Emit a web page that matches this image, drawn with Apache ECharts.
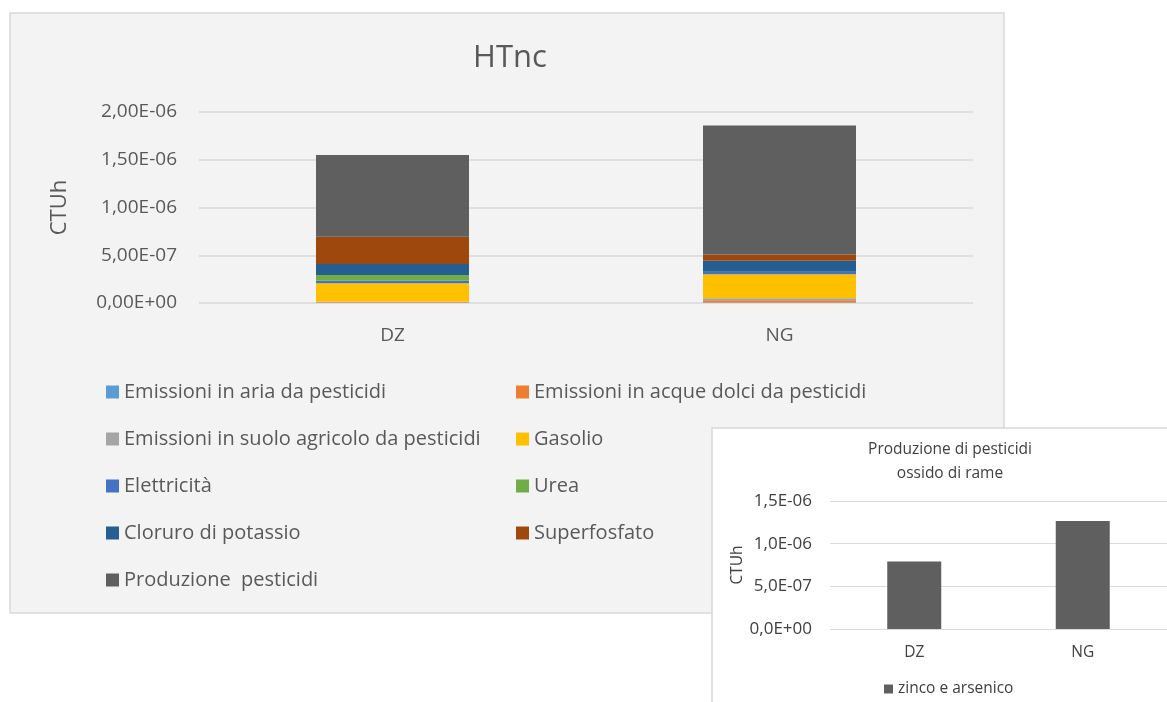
<!DOCTYPE html>
<html>
<head>
<meta charset="utf-8">
<script src="https://cdn.jsdelivr.net/npm/echarts@6/dist/echarts.min.js"></script>
<style>
  html, body { margin: 0; padding: 0; background: #ffffff; }
  #chart { width: 1167px; height: 702px; }
</style>
</head>
<body>
<div id="chart"></div>
<script>
// HTnc – human toxicity, non-cancer (CTUh) per system
const categories = ['DZ', 'NG'];

const seriesNames = [
  'Emissioni in aria da pesticidi',
  'Emissioni in acque dolci da pesticidi',
  'Emissioni in suolo agricolo da pesticidi',
  'Gasolio',
  'Elettricità',
  'Urea',
  'Cloruro di potassio',
  'Superfosfato',
  'Produzione  pesticidi'
];

// one value per category: [DZ, NG]
const emissioniAria   = [0.03e-7, 0.05e-7];
const emissioniAcque  = [0.06e-7, 0.25e-7];
const emissioniSuolo  = [0.05e-7, 0.20e-7];
const gasolio         = [1.93e-7, 2.51e-7];
const elettricita     = [0.27e-7, 0.25e-7];
const urea            = [0.60e-7, 0.02e-7];
const cloruroPotassio = [1.15e-7, 1.15e-7];
const superfosfato    = [2.86e-7, 0.66e-7];
const produzione      = [8.55e-7, 13.5e-7];

const yTicks = [0, 5e-7, 1e-6, 1.5e-6, 2e-6];

// copper oxide pesticide production: zinc and arsenic contribution
const insetCategories = ['DZ', 'NG'];
const zincoArsenico = [7.9e-7, 12.65e-7];
const insetTicks = [0, 5e-7, 1e-6, 1.5e-6];

const seriesValues = [
  emissioniAria, emissioniAcque, emissioniSuolo, gasolio, elettricita,
  urea, cloruroPotassio, superfosfato, produzione
];
const colors = [
  '#5B9BD5', '#ED7D31', '#A5A5A5', '#FFC000', '#4472C4',
  '#70AD47', '#255E91', '#9E480E', '#5f5f5f'
];

const FONT = '"Open Sans", Lato, sans-serif';
const TXT = '#595959';
const TXT2 = '#404040';

// Italian-style scientific notation: 2,00E-06
function sci(v, digits) {
  const s = Number(v).toExponential(digits);
  const [m, e] = s.split('e');
  const sign = e[0] === '-' ? '-' : '+';
  const exp = e.replace(/[+-]/, '').padStart(2, '0');
  return m.replace('.', ',') + 'E' + sign + exp;
}

const mainSeries = seriesNames.map((name, i) => ({
  name,
  type: 'bar',
  stack: 'tot',
  xAxisIndex: 0,
  yAxisIndex: 0,
  barWidth: 153,
  itemStyle: { color: colors[i] },
  data: seriesValues[i]
}));

const insetSeries = {
  name: 'zinco e arsenico',
  type: 'bar',
  xAxisIndex: 1,
  yAxisIndex: 1,
  barWidth: 54,
  itemStyle: { color: '#5f5f5f' },
  data: zincoArsenico
};

const legendCommon = {
  orient: 'vertical',
  icon: 'rect',
  padding: 0,
  itemWidth: 13,
  itemHeight: 13,
  itemGap: 27,
  textStyle: { color: TXT, fontSize: 20, fontFamily: FONT },
  selectedMode: false
};

const option = {
  animation: false,
  backgroundColor: '#ffffff',
  graphic: [
    {
      type: 'rect', z: -20,
      shape: { x: 10, y: 13, width: 994, height: 600 },
      style: { fill: '#f3f3f3', stroke: '#d9d9d9', lineWidth: 1.5 }
    },
    {
      type: 'rect', z: -10,
      shape: { x: 712, y: 428, width: 470, height: 290 },
      style: { fill: '#ffffff', stroke: '#d9d9d9', lineWidth: 1.5 }
    }
  ],
  title: [
    {
      text: 'HTnc',
      left: 505, top: 38, textAlign: 'center',
      textStyle: { color: TXT, fontSize: 31, fontWeight: 'normal', fontFamily: FONT }
    },
    {
      text: 'Produzione di pesticidi\nossido di rame',
      left: 945, top: 433, textAlign: 'center',
      textStyle: { color: TXT2, fontSize: 15.5, fontWeight: 'normal', lineHeight: 24, fontFamily: FONT }
    }
  ],
  legend: [
    Object.assign({}, legendCommon, {
      left: 106, top: 382,
      data: [seriesNames[0], seriesNames[2], seriesNames[4], seriesNames[6], seriesNames[8]]
    }),
    Object.assign({}, legendCommon, {
      left: 516, top: 382,
      data: [seriesNames[1], seriesNames[3], seriesNames[5], seriesNames[7]]
    }),
    {
      left: 884, top: 681, padding: 0,
      icon: 'rect', itemWidth: 9, itemHeight: 9,
      selectedMode: false,
      textStyle: { color: TXT2, fontSize: 15.5, fontFamily: FONT },
      data: ['zinco e arsenico']
    }
  ],
  grid: [
    { left: 199, right: 194, top: 112, bottom: 399 },
    { left: 830, right: 0, top: 501, bottom: 73 }
  ],
  xAxis: [
    {
      type: 'category', gridIndex: 0, data: categories,
      axisLine: { show: false }, axisTick: { show: false },
      axisLabel: { color: TXT, fontSize: 19, margin: 23, fontFamily: FONT }
    },
    {
      type: 'category', gridIndex: 1, data: insetCategories,
      axisLine: { show: false }, axisTick: { show: false },
      axisLabel: { color: TXT2, fontSize: 15.5, margin: 16, fontFamily: FONT }
    }
  ],
  yAxis: [
    {
      type: 'value', gridIndex: 0,
      min: yTicks[0], max: yTicks[yTicks.length - 1], interval: yTicks[1] - yTicks[0],
      name: 'CTUh', nameLocation: 'middle', nameGap: 128, nameRotate: 90,
      nameTextStyle: { color: TXT, fontSize: 22, fontFamily: FONT },
      axisLine: { show: false }, axisTick: { show: false },
      splitLine: { lineStyle: { color: '#d9d9d9', width: 1.5 } },
      axisLabel: { color: TXT, fontSize: 19, margin: 22, fontFamily: FONT, formatter: v => sci(v, 2) }
    },
    {
      type: 'value', gridIndex: 1,
      min: insetTicks[0], max: insetTicks[insetTicks.length - 1], interval: insetTicks[1] - insetTicks[0],
      name: 'CTUh', nameLocation: 'middle', nameGap: 84, nameRotate: 90,
      nameTextStyle: { color: TXT2, fontSize: 15.5, fontFamily: FONT },
      axisLine: { show: false }, axisTick: { show: false },
      splitLine: { lineStyle: { color: '#d9d9d9', width: 1 } },
      axisLabel: { color: TXT2, fontSize: 17, margin: 18, fontFamily: FONT, formatter: v => sci(v, 1) }
    }
  ],
  series: mainSeries.concat([insetSeries])
};

const chart = echarts.init(document.getElementById('chart'), null, { renderer: 'canvas' });
chart.setOption(option);
</script>
</body>
</html>
